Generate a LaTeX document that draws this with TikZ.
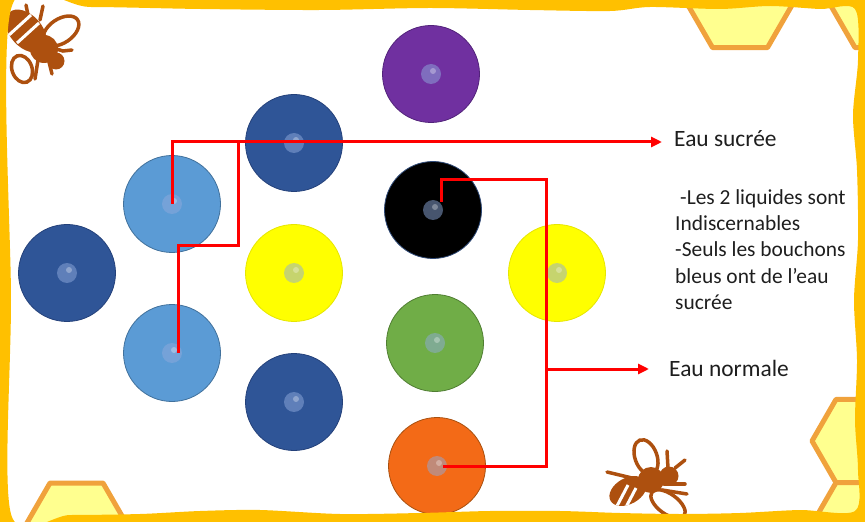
\documentclass[tikz,border=0pt]{standalone}
\usepackage{fontspec}
\setmainfont{Carlito}
\usetikzlibrary{arrows.meta}

\definecolor{framegold}{HTML}{FFC000}
\definecolor{combfill}{HTML}{FFFF8F}
\definecolor{combedge}{HTML}{F0A23C}
\definecolor{beebrown}{HTML}{AD500F}
\definecolor{linkred}{HTML}{FF0000}
\definecolor{spotblue}{HTML}{8FAADC}
\definecolor{txt}{HTML}{1E1E1E}
% bottle cap colours and their rims
\definecolor{cPurple}{HTML}{7030A0}\definecolor{ePurple}{HTML}{52237A}
\definecolor{cDark}{HTML}{2F5597}\definecolor{eDark}{HTML}{24417A}
\definecolor{cLight}{HTML}{5B9BD5}\definecolor{eLight}{HTML}{41719C}
\definecolor{cYellow}{HTML}{FFFF00}\definecolor{eYellow}{HTML}{E6E600}
\definecolor{cBlack}{HTML}{000000}\definecolor{eBlack}{HTML}{2F4A78}
\definecolor{cGreen}{HTML}{70AD47}\definecolor{eGreen}{HTML}{507E32}
\definecolor{cOrange}{HTML}{F36A17}\definecolor{eOrange}{HTML}{A8500F}

\begin{document}
\begin{tikzpicture}[x=1bp,y=-1bp,
  bottle/.style 2 args={circle, minimum size=97bp, inner sep=0pt, fill=#1, draw=#2, line width=0.8bp},
  link/.style={draw=linkred, line width=3bp},
  tip/.style={-{Triangle[length=11bp,width=10bp]}},
  tag/.style={inner sep=0pt, text=txt, font=\fontsize{23.5}{28}\selectfont},
  note/.style={inner sep=0pt, text=txt, align=left, font=\fontsize{21.5}{26.5}\selectfont},
  comb/.style={fill=combfill, draw=combedge, line width=5bp, line join=round},
  beeline/.style={draw=beebrown, line width=3.5bp, line cap=round},
]
\useasboundingbox (0,0) rectangle (865,522);

% honeycomb cells in the corners
\draw[comb] (685,0) -- (712.5,47.6) -- (767.5,47.6) -- (795,0) -- (767.5,-47.6) -- (712.5,-47.6) -- cycle;
\draw[comb] (827.5,0) -- (855,47.6) -- (910,47.6) -- (937.5,0) -- (910,-47.6) -- (855,-47.6) -- cycle;
\draw[comb] (812,441) -- (836,399.4) -- (884,399.4) -- (908,441) -- (884,482.6) -- (836,482.6) -- cycle;
\draw[comb] (812,524.2) -- (836,482.6) -- (884,482.6) -- (908,524.2) -- (884,565.8) -- (836,565.8) -- cycle;
\draw[comb] (23.5,528.9) -- (50,483) -- (103,483) -- (129.5,528.9) -- (103,574.8) -- (50,574.8) -- cycle;

% bee, top left
\draw[beeline, fill=white] (61,31) ellipse [x radius=20bp, y radius=12bp, rotate=34];
\draw[beeline, fill=white] (22,69) ellipse [x radius=10bp, y radius=14bp, rotate=20];
\draw[beeline] (29,20) -- (26,5);
\draw[beeline] (40,20) -- (43,6);
\draw[beeline] (50,47) -- (63,51) -- (72,50);
\draw[beeline] (38,60) -- (35,79);
\draw[beeline] (49,62) -- (52,74);
\begin{scope}
  \fill[beebrown] (26,31) ellipse [x radius=25bp, y radius=16bp, rotate=-48];
  \clip (26,31) ellipse [x radius=25bp, y radius=16bp, rotate=-48];
  \draw[white, line width=3bp] (9,35) -- (31,15);
  \draw[white, line width=3bp] (17,43) -- (39,23);
\end{scope}
\fill[beebrown] (44,49) circle (14bp);
\fill[beebrown] (56,61) circle (8.5bp);

% bee, bottom
\draw[beeline, fill=white] (646,457) ellipse [x radius=11bp, y radius=18bp, rotate=20];
\draw[beeline, fill=white] (668,504) ellipse [x radius=20bp, y radius=10bp, rotate=-36];
\draw[beeline] (632,478) -- (607,472);
\draw[beeline] (662,490) -- (687,494);
\draw[beeline] (664,484) -- (685,484);
\draw[beeline] (668,468) -- (667,451);
\draw[beeline] (675,468) -- (685,460);
\begin{scope}
  \fill[beebrown] (628,491) ellipse [x radius=20bp, y radius=13bp, rotate=29];
  \clip (628,491) ellipse [x radius=20bp, y radius=13bp, rotate=29];
  \draw[white, line width=3bp] (617,506) -- (628,485);
  \draw[white, line width=3bp] (625,509) -- (636,488);
\end{scope}
\fill[beebrown] (651,480) circle (13bp);
\fill[beebrown] (669,476) circle (9.5bp);

% bottle caps
\foreach \n/\x/\y/\c/\e in {
  bPurple/431/74/cPurple/ePurple,
  bDarkTop/294/143/cDark/eDark,
  bLightTop/172/204/cLight/eLight,
  bDarkLeft/67/273/cDark/eDark,
  bYellowLeft/294/273/cYellow/eYellow,
  bLightBot/172/353/cLight/eLight,
  bDarkBot/294/402/cDark/eDark,
  bBlack/433/210/cBlack/eBlack,
  bYellowRight/557/273/cYellow/eYellow,
  bGreen/435/343/cGreen/eGreen,
  bOrange/437/466/cOrange/eOrange}
{
  \node[bottle={\c}{\e}] (\n) at (\x,\y) {};
  \fill[spotblue, opacity=0.5] (\n.center) circle (10bp);
  \fill[white, opacity=0.3] ([xshift=2bp,yshift=3bp]\n.center) circle (3bp);
}

% connectors
\coordinate (sucreTip) at (662,142);
\coordinate (sucreBend) at (238,246);
\coordinate (sucreJoin) at (238,142);
\draw[link, tip] (bLightTop.center) |- (sucreTip);
\draw[link] ([xshift=6bp]bLightBot.center) |- (sucreBend) -- (sucreJoin);

\coordinate (normTop) at (546,180);
\coordinate (normBot) at (546,466);
\coordinate (normJoin) at (546,369);
\coordinate (normTip) at (649,369);
\draw[link] ([xshift=8bp,yshift=8bp]bBlack.center) |- (normTop) -- (normBot) -- ([xshift=6bp]bOrange.center);
\draw[link, tip] (normJoin) -- (normTip);

% labels
\node[tag, anchor=base west] (tSucre) at (674,147) {Eau sucrée};
\node[tag, anchor=base west] (tNormal) at (669,376) {Eau normale};
\node[note, anchor=north west] (tNote) at (675,189) {\hspace*{5bp}-Les 2 liquides sont\\Indiscernables\\-Seuls les bouchons\\bleus ont de l’eau\\sucrée};

% wavy frame
\fill[framegold, even odd rule] (-2,-2) rectangle (867,524)
  plot[smooth cycle, tension=0.5] coordinates {(11,9) (90,7) (200,9) (320,10) (430,8) (530,10) (610,11) (650,7) (720,9) (770,6) (820,9) (855,9) (858,60) (853,115) (857,170) (858,240) (854,300) (857,360) (855,420) (858,470) (855,511) (800,510) (740,513) (680,514) (620,513) (560,511) (490,511) (420,513) (340,514) (260,510) (200,511) (140,514) (70,515) (11,514) (11,300)};
\end{tikzpicture}
\end{document}
